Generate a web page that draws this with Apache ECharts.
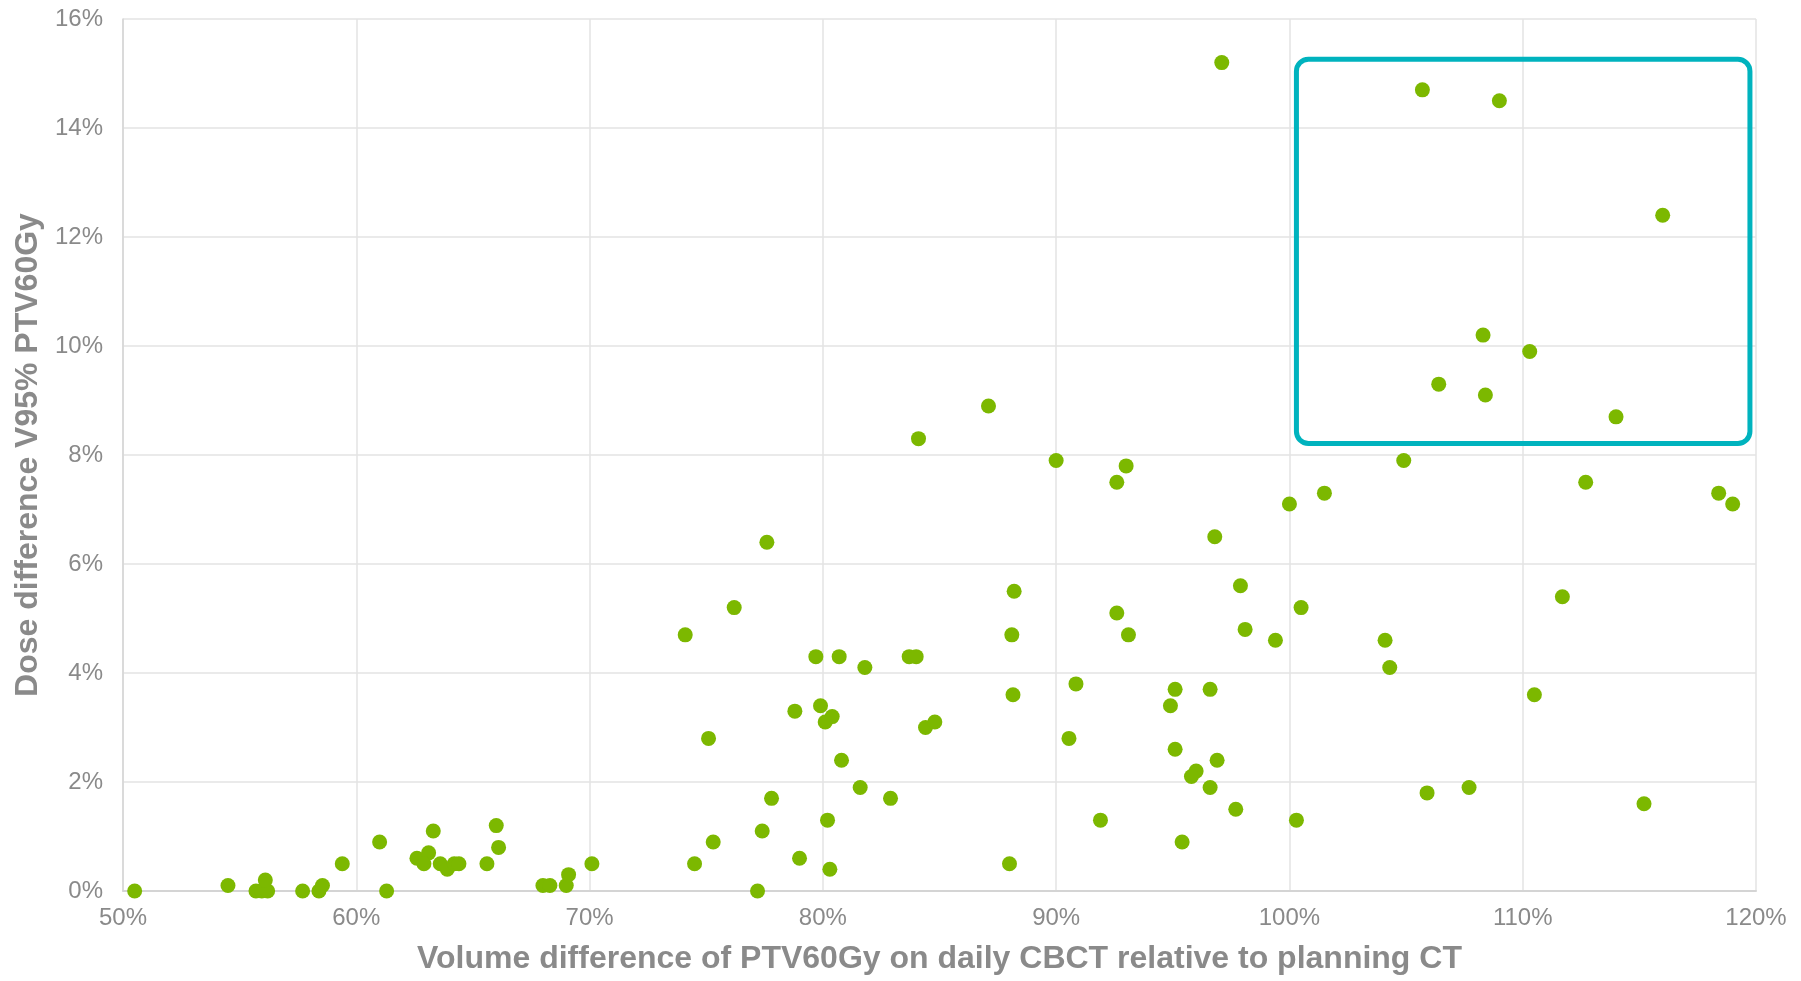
<!DOCTYPE html>
<html>
<head>
<meta charset="utf-8">
<title>PTV60Gy volume vs dose difference</title>
<script src="https://cdn.jsdelivr.net/npm/echarts@6/dist/echarts.min.js"></script>
<style>
  html, body { margin: 0; padding: 0; background: #fff; }
  #chart { width: 1801px; height: 981px; }
</style>
</head>
<body>
<div id="chart"></div>
<script>
// volume difference (% of planning CT) per daily CBCT
const volumeDiff = [
  50.5, 54.5, 55.7, 55.95, 56.2, 56.1, 57.7, 58.4, 58.55, 59.4,
  61.0, 61.3, 63.3, 62.6, 63.1, 62.9, 63.6, 63.9, 64.2, 64.4,
  65.6, 66.0, 66.1, 68.0, 68.3, 69.0, 69.1,
  87.1, 84.1, 90.0, 77.6, 88.2, 76.2, 74.1, 88.1, 79.7, 80.7,
  81.8, 83.7, 84.0, 90.85, 88.15, 78.8, 79.9, 80.4, 80.1, 84.4,
  84.8, 75.1, 90.55, 80.8, 81.6, 77.8, 82.9, 80.2, 77.4, 75.3,
  70.1, 74.5, 79.0, 80.3, 88.0, 77.2,
  93.0, 92.6, 100.0, 101.5, 104.9, 96.8, 97.9, 100.5, 92.6, 93.1,
  98.1, 99.4, 104.1, 104.3, 95.1, 96.6, 94.9, 95.1, 96.9, 96.0,
  95.8, 96.6, 97.7, 91.9, 100.3, 95.4, 105.9, 107.7,
  97.1, 105.7, 109.0, 116.0, 108.3, 110.3, 106.4, 108.4, 114.0, 112.7,
  118.4, 119.0, 111.7, 110.5, 115.2
];
// dose difference V95% (%)
const doseDiff = [
  0.0, 0.1, 0.0, 0.0, 0.0, 0.2, 0.0, 0.0, 0.1, 0.5,
  0.9, 0.0, 1.1, 0.6, 0.7, 0.5, 0.5, 0.4, 0.5, 0.5,
  0.5, 1.2, 0.8, 0.1, 0.1, 0.1, 0.3,
  8.9, 8.3, 7.9, 6.4, 5.5, 5.2, 4.7, 4.7, 4.3, 4.3,
  4.1, 4.3, 4.3, 3.8, 3.6, 3.3, 3.4, 3.2, 3.1, 3.0,
  3.1, 2.8, 2.8, 2.4, 1.9, 1.7, 1.7, 1.3, 1.1, 0.9,
  0.5, 0.5, 0.6, 0.4, 0.5, 0.0,
  7.8, 7.5, 7.1, 7.3, 7.9, 6.5, 5.6, 5.2, 5.1, 4.7,
  4.8, 4.6, 4.6, 4.1, 3.7, 3.7, 3.4, 2.6, 2.4, 2.2,
  2.1, 1.9, 1.5, 1.3, 1.3, 0.9, 1.8, 1.9,
  15.2, 14.7, 14.5, 12.4, 10.2, 9.9, 9.3, 9.1, 8.7, 7.5,
  7.3, 7.1, 5.4, 3.6, 1.6
];
// highlighted region (x from, y top) -> (x to, y bottom)
const boxCorners = [[100.3, 15.26], [119.74, 8.21]];

const points = volumeDiff.map((v, i) => [v, doseDiff[i]]);

const labelColor = '#8a8a8a';
const gridColor = '#e3e3e3';
const font = '"Liberation Sans", Arial, sans-serif';

const chart = echarts.init(document.getElementById('chart'), null, { renderer: 'canvas' });

chart.setOption({
  animation: false,
  grid: { left: 123, right: 45, top: 19, bottom: 90 },
  xAxis: {
    type: 'value',
    min: 50,
    max: 120,
    interval: 10,
    name: 'Volume difference of PTV60Gy on daily CBCT relative to planning CT',
    nameLocation: 'middle',
    nameGap: 52,
    nameTextStyle: { color: labelColor, fontSize: 32, fontWeight: 'bold', fontFamily: font },
    axisLine: { lineStyle: { color: '#d4d4d4', width: 2 } },
    axisTick: { show: false },
    axisLabel: { color: labelColor, fontSize: 24, fontFamily: font, margin: 15, formatter: '{value}%' },
    splitLine: { lineStyle: { color: gridColor, width: 1.5 } }
  },
  yAxis: {
    type: 'value',
    min: 0,
    max: 16,
    interval: 2,
    name: 'Dose difference V95% PTV60Gy',
    nameLocation: 'middle',
    nameRotate: 90,
    nameGap: 78,
    nameTextStyle: { color: labelColor, fontSize: 32, fontWeight: 'bold', fontFamily: font },
    axisLine: { show: true, lineStyle: { color: '#d4d4d4', width: 1.5 } },
    axisTick: { show: false },
    axisLabel: { color: labelColor, fontSize: 24, fontFamily: font, margin: 20, formatter: '{value}%' },
    splitLine: { lineStyle: { color: gridColor, width: 1.5 } }
  },
  series: [{
    type: 'scatter',
    data: points,
    symbolSize: 15,
    itemStyle: { color: '#7cb800', opacity: 1 }
  }]
});

// rounded highlight box placed through the axis scales
const p1 = chart.convertToPixel({ gridIndex: 0 }, boxCorners[0]);
const p2 = chart.convertToPixel({ gridIndex: 0 }, boxCorners[1]);
chart.setOption({
  graphic: [{
    type: 'rect',
    shape: { x: p1[0], y: p1[1], width: p2[0] - p1[0], height: p2[1] - p1[1], r: 12 },
    style: { fill: null, stroke: '#00b3be', lineWidth: 5 },
    z: 10
  }]
});
</script>
</body>
</html>
